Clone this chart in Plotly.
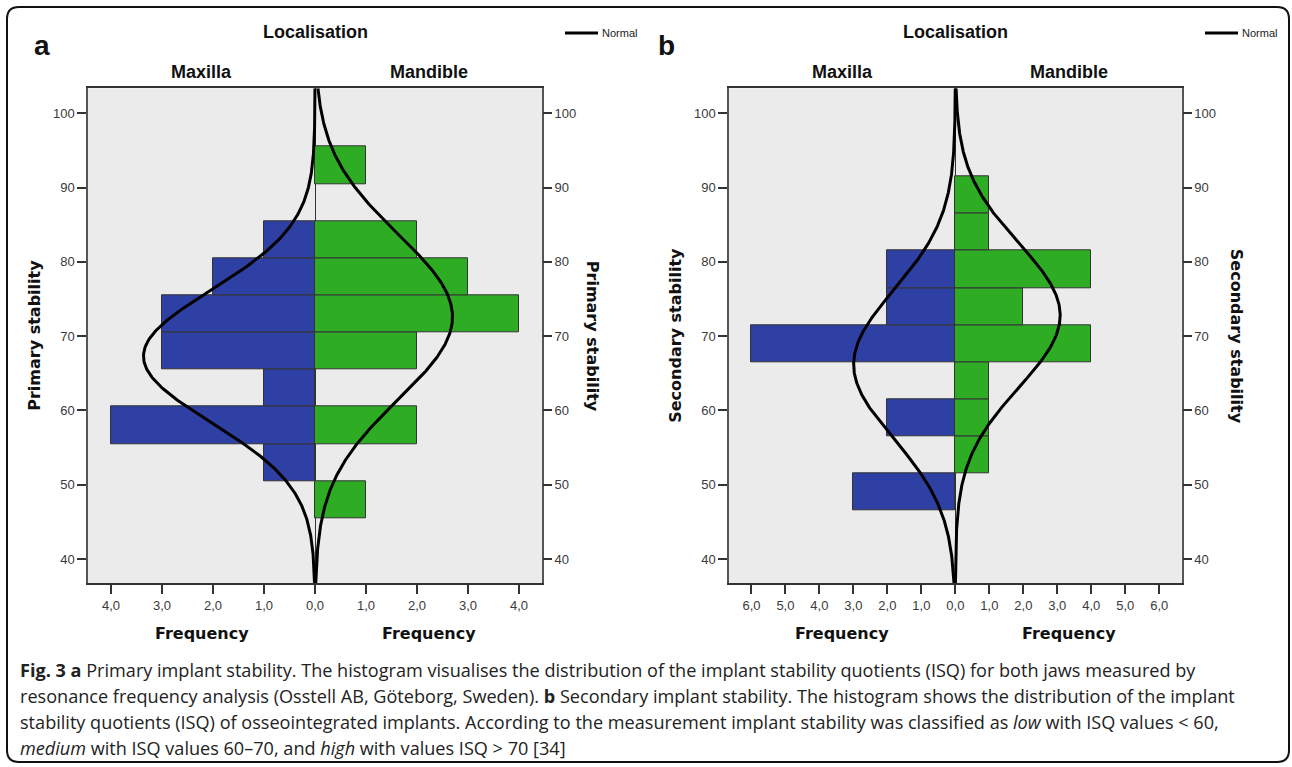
import numpy as np
import plotly.graph_objects as go

W, H = 1292, 767


def px(x):
    return x / W


def py(y):
    return 1 - y / H


# ---------------- data ----------------
# Panel a: primary stability (bin width 5)
a_bin_centers = [48, 53, 58, 63, 68, 73, 78, 83, 88, 93]
a_maxilla = [0, 1, 4, 1, 3, 3, 2, 1, 0, 0]
a_mandible = [1, 0, 2, 0, 2, 4, 3, 2, 0, 1]
# Panel b: secondary stability (bin width 5)
b_bin_centers = [49, 54, 59, 64, 69, 74, 79, 84, 89]
b_maxilla = [3, 0, 2, 0, 6, 2, 2, 0, 0]
b_mandible = [0, 1, 1, 1, 4, 2, 4, 1, 1]
bin_width = 5

# Normal curve parameters (mean, sd, n)
a_max_normal = (67.3, 8.9, 15)
a_mand_normal = (72.6, 11.1, 15)
b_max_normal = (66.2, 10.0, 15)
b_mand_normal = (72.8, 9.7, 15)

y_ticks = [40, 50, 60, 70, 80, 90, 100]
a_freq_ticks = [-4, -3, -2, -1, 0, 1, 2, 3, 4]
b_freq_ticks = [-6, -5, -4, -3, -2, -1, 0, 1, 2, 3, 4, 5, 6]

y_range = [36.73, 103.37]
a_x_range = [-4.45, 4.45]
b_x_range = [-6.66, 6.66]

BLUE = "#2E40A4"
GREEN = "#2EAD24"
TICKFONT = dict(family="Liberation Sans, Arial, sans-serif", size=13, color="#3a3a3a")


def fmt(v):
    return f"{abs(v):.1f}".replace(".", ",")


def normal_curve(params, sign, yr):
    mu, sd, n = params
    yy = np.linspace(yr[0], yr[1], 400)
    dens = n * bin_width / (sd * np.sqrt(2 * np.pi)) * np.exp(-0.5 * ((yy - mu) / sd) ** 2)
    return sign * dens, yy


fig = go.Figure()


def add_panel(xa, ya, ya_r, centers, maxi, mand, pmax, pmand):
    mc = [c for c, v in zip(centers, maxi) if v > 0]
    mv = [-v for v in maxi if v > 0]
    dc = [c for c, v in zip(centers, mand) if v > 0]
    dv = [v for v in mand if v > 0]
    fig.add_trace(go.Bar(x=mv, y=mc, orientation="h", width=bin_width,
                         marker=dict(color=BLUE, line=dict(color="#333", width=1)),
                         xaxis=xa, yaxis=ya, showlegend=False))
    fig.add_trace(go.Bar(x=dv, y=dc, orientation="h", width=bin_width,
                         marker=dict(color=GREEN, line=dict(color="#333", width=1)),
                         xaxis=xa, yaxis=ya, showlegend=False))
    cx, cy = normal_curve(pmax, -1, y_range)
    fig.add_trace(go.Scatter(x=cx, y=cy, mode="lines", line=dict(color="black", width=3),
                             xaxis=xa, yaxis=ya, showlegend=False))
    cx, cy = normal_curve(pmand, 1, y_range)
    fig.add_trace(go.Scatter(x=cx, y=cy, mode="lines", line=dict(color="black", width=3),
                             xaxis=xa, yaxis=ya_r, showlegend=False))


add_panel("x", "y", "y3", a_bin_centers, a_maxilla, a_mandible, a_max_normal, a_mand_normal)
add_panel("x2", "y2", "y4", b_bin_centers, b_maxilla, b_mandible, b_max_normal, b_mand_normal)

ydom = [py(583.3), py(88.3)]
xdom_a = [px(88), px(542)]
xdom_b = [px(729), px(1181.7)]


def xaxis(dom, rng, ticks, anchor):
    return dict(domain=dom, range=rng, tickvals=ticks, ticktext=[fmt(t) for t in ticks],
                ticks="outside", ticklen=9, tickcolor="#333", tickwidth=1.5,
                showline=True, linecolor="#333", linewidth=1.5, mirror=True,
                showgrid=False, zeroline=True, zerolinecolor="#333", zerolinewidth=1,
                tickfont=TICKFONT, anchor=anchor, fixedrange=True)


def yaxis(anchor, side="left", overlay=None):
    d = dict(range=y_range, tickvals=y_ticks, ticks="outside", ticklen=9,
             tickcolor="#333", tickwidth=1.5, showgrid=False, zeroline=False,
             tickfont=TICKFONT, anchor=anchor, side=side, fixedrange=True)
    if overlay:
        d.update(overlaying=overlay, showline=False)
    else:
        d.update(domain=ydom, showline=True, linecolor="#555", linewidth=1.5, mirror=True)
    return d


fig.update_layout(
    width=W, height=H,
    margin=dict(l=0, r=0, t=0, b=0),
    paper_bgcolor="white", plot_bgcolor="#EBEBEB",
    barmode="overlay", bargap=0,
    xaxis=xaxis(xdom_a, a_x_range, a_freq_ticks, "y"),
    yaxis=yaxis("x"),
    yaxis3=yaxis("x", "right", "y"),
    xaxis2=xaxis(xdom_b, b_x_range, b_freq_ticks, "y2"),
    yaxis2=yaxis("x2"),
    yaxis4=yaxis("x2", "right", "y2"),
)

ann = []
TITLE_F = dict(family="Liberation Sans, Arial, sans-serif", size=18, color="#111")
LAB_F = dict(family="DejaVu Sans, Verdana, sans-serif", size=16, color="#111")


def A(x, y, text, font, **kw):
    d = dict(x=px(x), y=py(y), xref="paper", yref="paper", text=text, showarrow=False,
             font=font, xanchor="center", yanchor="middle")
    d.update(kw)
    ann.append(d)


for (xc, xl, xr, letter, lx, ytitle, ylx, yrx, legx) in [
    (315.3, 201.5, 428.5, "a", 42, "Primary stability", 35, 592, 565),
    (955.3, 842, 1068.5, "b", 666, "Secondary stability", 676, 1236, 1205),
]:
    A(xc, 32, "<b>Localisation</b>", TITLE_F)
    A(xl, 72, "<b>Maxilla</b>", TITLE_F)
    A(xr, 72, "<b>Mandible</b>", TITLE_F)
    A(xl, 633, "<b>Frequency</b>", LAB_F)
    A(xr, 633, "<b>Frequency</b>", LAB_F)
    A(lx, 45, "<b>" + letter + "</b>", dict(family="Liberation Sans, Arial, sans-serif", size=28, color="#111"))
    A(ylx, 335.8, "<b>" + ytitle + "</b>", LAB_F, textangle=-90)
    A(yrx, 335.8, "<b>" + ytitle + "</b>", LAB_F, textangle=90)
    A(legx + 35, 33, "Normal", dict(family="Liberation Sans, Arial, sans-serif", size=11, color="#222"),
      xanchor="left")

CAP_F = dict(family="Open Sans, sans-serif", size=18.1, color="#222")
caption_lines = [
    "<b>Fig. 3</b> <b>a</b> Primary implant stability. The histogram visualises the distribution of the implant stability quotients (ISQ) for both jaws measured by",
    "resonance frequency analysis (Osstell AB, Göteborg, Sweden). <b>b</b> Secondary implant stability. The histogram shows the distribution of the implant",
    "stability quotients (ISQ) of osseointegrated implants. According to the measurement implant stability was classified as <i>low</i> with ISQ values &lt; 60,",
    "<i>medium</i> with ISQ values 60–70, and <i>high</i> with values ISQ &gt; 70 [34]",
]
for i, line in enumerate(caption_lines):
    A(18, 670 + 26 * i, line, CAP_F, xanchor="left")

fig.update_layout(annotations=ann)

shapes = []
for legx in (565, 1205):
    shapes.append(dict(type="line", xref="paper", yref="paper", x0=px(legx), x1=px(legx + 33),
                       y0=py(33), y1=py(33), line=dict(color="black", width=3)))

# outer rounded frame
x0, x1, y0, y1, r = 7, 1289, 7, 762, 12
path = (f"M {px(x0 + r)},{py(y0)} L {px(x1 - r)},{py(y0)} Q {px(x1)},{py(y0)} {px(x1)},{py(y0 + r)} "
        f"L {px(x1)},{py(y1 - r)} Q {px(x1)},{py(y1)} {px(x1 - r)},{py(y1)} "
        f"L {px(x0 + r)},{py(y1)} Q {px(x0)},{py(y1)} {px(x0)},{py(y1 - r)} "
        f"L {px(x0)},{py(y0 + r)} Q {px(x0)},{py(y0)} {px(x0 + r)},{py(y0)} Z")
shapes.append(dict(type="path", xref="paper", yref="paper", path=path,
                   line=dict(color="#111", width=2), fillcolor="rgba(0,0,0,0)", layer="above"))
fig.update_layout(shapes=shapes)

fig.write_html(
    "out.html",
    config={"displayModeBar": False},
    post_script="document.documentElement.style.margin='0';document.body.style.margin='0';"
                "document.body.style.overflow='hidden';document.documentElement.style.overflow='hidden';",
)
